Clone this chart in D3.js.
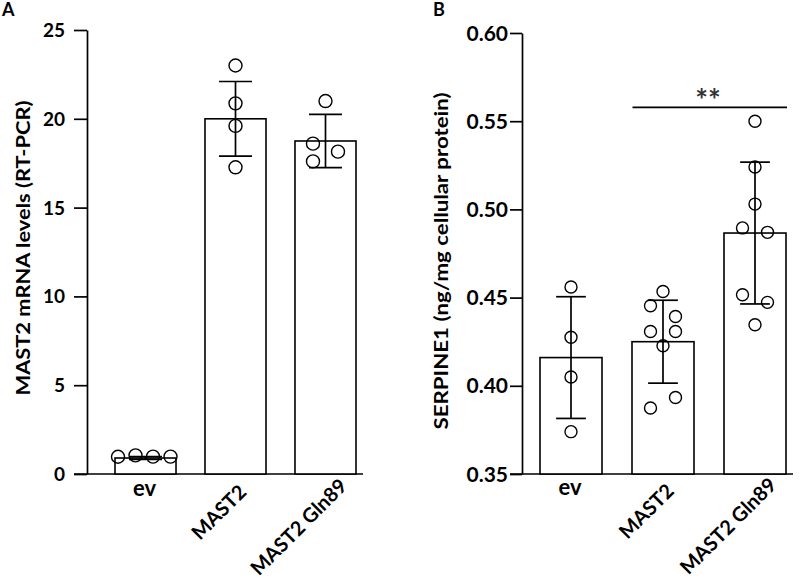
<!DOCTYPE html>
<html>
<head>
<meta charset="utf-8">
<script src="https://cdn.jsdelivr.net/npm/d3@7"></script>
<style>
	body { margin: 0; background: #fff; }
	text { font-family: Lato, "Open Sans", sans-serif; font-weight: 700; fill: #000; }
</style>
</head>
<body>
<svg id="svg" width="800" height="579"></svg>
<script>
var groups = ["ev", "MAST2", "MAST2 Gln89"]

// panel A: MAST2 mRNA (RT-PCR)
var mrnaMean = [0.9, 20.0, 18.75]
var mrnaSd = [0.08, 2.1, 1.5]
var mrnaPoints = [
	[0.97, 1.05, 0.98, 0.98],
	[23.0, 20.87, 19.6, 17.27],
	[21.0, 18.6, 18.15, 17.6]
]
var mrnaTicks = [0, 5, 10, 15, 20, 25]

// panel B: SERPINE1
var serpMean = [0.416, 0.425, 0.4866]
var serpSd = [0.0345, 0.0235, 0.0402]
var serpPoints = [
	[0.456, 0.4275, 0.405, 0.374],
	[0.4535, 0.4454, 0.4393, 0.4308, 0.4308, 0.4227, 0.3934, 0.3874],
	[0.55, 0.524, 0.503, 0.4895, 0.487, 0.4516, 0.4473, 0.4346]
]
var serpTicks = [0.35, 0.40, 0.45, 0.50, 0.55, 0.60]
var serpSig = { from: "MAST2", to: "MAST2 Gln89", at: 0.5578, label: "**" }

// horizontal slots of the scatter dots (layout only)
var mrnaSlots = [[-2.2, -0.8, 0.6, 2.0], [0, 0, 0, 0], [0, -1, 1, -1]]
var serpSlots = [[0, 0, 0, 0], [0, -1, 1, -1, 1, 0, 1, -1], [0, 0, 0, -1, 1, -1, 1, 0]]

var svg = d3.select("#svg")

function panel(o) {
	var g = svg.append("g")
	var x = d3.scaleBand().domain(groups).range(o.xr).paddingInner(o.pad).paddingOuter(0)
	var y = d3.scaleLinear().domain(o.ydom).range(o.yr)
	var bw = x.bandwidth()
	var cx = function (d) { return x(d) + bw / 2 }

	var ax = g.append("g")
		.attr("transform", "translate(" + o.axisX + ",0)")
		.call(d3.axisLeft(y).tickValues(o.ticks).tickFormat(o.fmt)
			.tickSize(o.tick).tickSizeOuter(0).tickPadding(o.tickPad))
	ax.selectAll("path, line").attr("stroke", "#000").attr("stroke-width", 1.7)
	ax.selectAll("text").style("font-size", o.tickFont + "px").attr("dy", "0.34em")

	g.append("line")
		.attr("x1", o.axisX - o.tick).attr("x2", o.xEnd)
		.attr("y1", y(o.ydom[0])).attr("y2", y(o.ydom[0]))
		.attr("stroke", "#000").attr("stroke-width", 1.7)

	g.selectAll("rect.bar").data(groups).enter().append("rect")
		.attr("class", "bar")
		.attr("x", function (d) { return x(d) })
		.attr("width", bw)
		.attr("y", function (d, i) { return y(o.mean[i]) })
		.attr("height", function (d, i) { return y(o.ydom[0]) - y(o.mean[i]) })
		.attr("fill", "#fff").attr("stroke", "#000").attr("stroke-width", 1.6)

	var cap = bw * o.capFrac / 2
	groups.forEach(function (d, i) {
		var hi = y(o.mean[i] + o.sd[i]), lo = y(o.mean[i] - o.sd[i])
		var eb = g.append("g").attr("stroke", "#000").attr("stroke-width", 1.7)
		eb.append("line").attr("x1", cx(d)).attr("x2", cx(d)).attr("y1", hi).attr("y2", lo)
		eb.append("line").attr("x1", cx(d) - cap).attr("x2", cx(d) + cap).attr("y1", hi).attr("y2", hi)
		eb.append("line").attr("x1", cx(d) - cap).attr("x2", cx(d) + cap).attr("y1", lo).attr("y2", lo)

		g.selectAll(null).data(o.points[i]).enter().append("circle")
			.attr("cx", function (v, j) { return cx(d) + o.slots[i][j] * o.slotW })
			.attr("cy", function (v) { return y(v) })
			.attr("r", o.r)
			.attr("fill", "none").attr("stroke", "#000").attr("stroke-width", 1.4)
	})

	// category labels
	g.append("text")
		.attr("x", cx(groups[0]) - 1).attr("y", o.labY)
		.attr("text-anchor", "middle").style("font-size", "22px")
		.text(groups[0])
	groups.slice(1).forEach(function (d) {
		var t = g.append("text")
			.attr("text-anchor", "end").style("font-size", "20px")
			.text(d)
		var len = t.node().getComputedTextLength()
		t.attr("transform", "translate(" + (cx(d) + 0.18 * len) + "," + (o.labY + 4 - 0.1 * len) + ") rotate(-45)")
	})

	g.append("text")
		.attr("transform", "translate(" + o.titleX + "," + o.titleY + ") rotate(-90)")
		.attr("text-anchor", "middle").style("font-size", "19px")
		.attr("textLength", o.titleLen).attr("lengthAdjust", "spacingAndGlyphs")
		.text(o.title)

	g.append("text").attr("x", o.letterX).attr("y", 16).style("font-size", "18px").text(o.letter)

	if (o.sig) {
		var sy = y(o.sig.at)
		g.append("line")
			.attr("x1", x(o.sig.from) + 0.5).attr("x2", x(o.sig.to) + bw + 1)
			.attr("y1", sy).attr("y2", sy)
			.attr("stroke", "#000").attr("stroke-width", 1.7)
		g.append("text")
			.attr("x", (x(o.sig.from) + x(o.sig.to) + bw) / 2 - 1).attr("y", sy + 4)
			.attr("text-anchor", "middle").style("font-size", "30px").style("fill", "#333")
			.text(o.sig.label)
	}
}

panel({
	letter: "A", letterX: 2,
	xr: [115, 356], pad: 0.322, xEnd: 363, axisX: 87,
	ydom: [0, 25], yr: [474, 30], ticks: mrnaTicks, fmt: d3.format("d"),
	tick: 13, tickPad: 9, tickFont: 19,
	mean: mrnaMean, sd: mrnaSd, points: mrnaPoints, slots: mrnaSlots, slotW: 12.5, r: 6.5,
	capFrac: 0.54, labY: 496,
	title: "MAST2 mRNA levels (RT-PCR)", titleX: 30, titleY: 248, titleLen: 295
})

panel({
	letter: "B", letterX: 433,
	xr: [540, 786], pad: 0.326, xEnd: 793, axisX: 522,
	ydom: [0.35, 0.60], yr: [474, 33], ticks: serpTicks, fmt: d3.format(".2f"),
	tick: 12, tickPad: 2, tickFont: 21,
	mean: serpMean, sd: serpSd, points: serpPoints, slots: serpSlots, slotW: 12.5, r: 6,
	capFrac: 0.48, labY: 495,
	title: "SERPINE1 (ng/mg cellular protein)", titleX: 448, titleY: 261, titleLen: 337,
	sig: serpSig
})
</script>
</body>
</html>
